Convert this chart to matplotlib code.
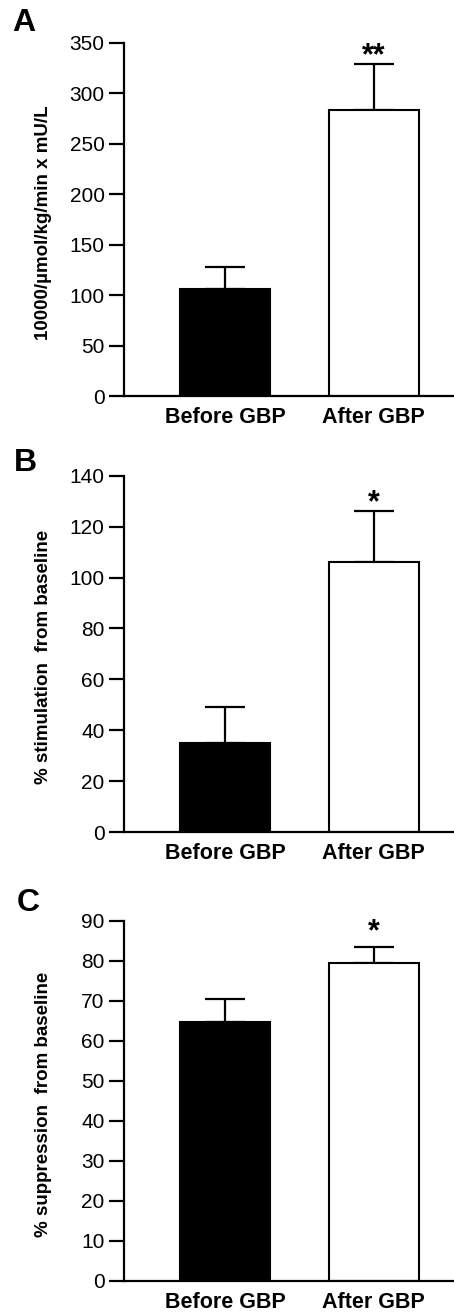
import matplotlib.pyplot as plt
import numpy as np

plt.rcParams["font.family"] = ["Liberation Sans", "DejaVu Sans"]

groups = ["Before GBP", "After GBP"]
colors = ["black", "white"]

# panel A: insulin sensitivity
a_means = [106, 284]
a_sem = [22, 45]
a_stars = ["", "**"]
a_star_y = [0, 328.5]

# panel B: % stimulation
b_means = [35, 106]
b_sem = [14, 20]
b_stars = ["", "*"]
b_star_y = [0, 126.2]

# panel C: % suppression
c_means = [64.7, 79.4]
c_sem = [5.7, 4.1]
c_stars = ["", "*"]
c_star_y = [0, 85]

W, H = 454, 1314
fig = plt.figure(figsize=(W / 100, H / 100), dpi=100)


def px_axes(top, bottom, left=124, right=454):
    return fig.add_axes([left / W, 1 - bottom / H, (right - left) / W, (bottom - top) / H])


def draw_panel(ax, means, sem, stars, star_y, yticks, ylabel, letter, letter_xy):
    x = np.arange(len(groups))
    ax.bar(x, means, width=0.606, color=colors, edgecolor="black", linewidth=1.5, zorder=2)
    ax.errorbar(x, means, yerr=[np.zeros(len(sem)), sem], fmt="none", ecolor="black",
                elinewidth=1.6, capsize=14.5, capthick=1.6, zorder=1)
    for xi, s, sy in zip(x, stars, star_y):
        if s:
            ax.text(xi, sy, s, ha="center", va="baseline", fontsize=22, fontweight="bold")

    ax.set_xlim(-0.68, 1.542)
    ax.set_ylim(0, yticks[-1])
    ax.set_yticks(yticks)
    ax.set_xticks(x)
    ax.set_xticklabels(groups, fontsize=15.5, fontweight="bold")
    ax.tick_params(axis="x", length=0, pad=8)
    ax.tick_params(axis="y", length=11, width=1.6, labelsize=15, pad=3)
    for side in ["top", "right"]:
        ax.spines[side].set_visible(False)
    for side in ["left", "bottom"]:
        ax.spines[side].set_linewidth(1.6)
    ax.set_ylabel(ylabel, fontsize=13.5, fontweight="bold")
    ax.yaxis.set_label_coords(-0.218, 0.49)
    fig.text(letter_xy[0] / W, 1 - letter_xy[1] / H, letter, fontsize=23,
             fontweight="bold", ha="left", va="top")


ax_a = px_axes(43, 396)
draw_panel(ax_a, a_means, a_sem, a_stars, a_star_y, np.arange(0, 351, 50),
           "10000/µmol/kg/min x mU/L", "A", (12, 8))

ax_b = px_axes(475.7, 832)
draw_panel(ax_b, b_means, b_sem, b_stars, b_star_y, np.arange(0, 141, 20),
           "% stimulation  from baseline", "B", (14, 448))

ax_c = px_axes(920.7, 1280.7)
draw_panel(ax_c, c_means, c_sem, c_stars, c_star_y, np.arange(0, 91, 10),
           "% suppression  from baseline", "C", (17, 888))

fig.savefig("out.png", dpi=100)
